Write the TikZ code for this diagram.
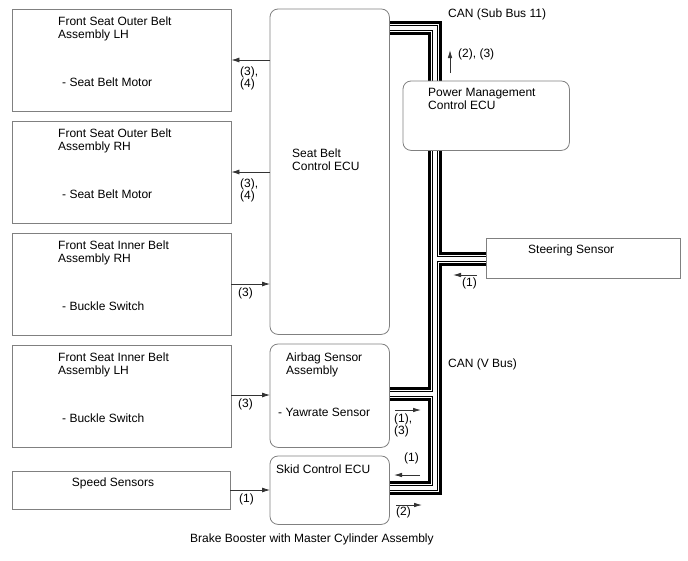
\documentclass[tikz,border=0pt]{standalone}
\usepackage{fontspec}
\setmainfont{Liberation Sans}
\usetikzlibrary{arrows.meta}
\tikzset{
  box/.style={draw=none, fill=none, inner sep=0pt, anchor=north west},
  frame/.style={draw=black!50, line width=0.8pt, fill=white},
  rframe/.style={frame, rounded corners=8pt},
  txt/.style={anchor=base west, inner sep=0pt, font=\fontsize{12}{14}\selectfont},
  ctxt/.style={txt, anchor=base},
  arr/.style={draw=black!80, line width=0.8pt, -{Latex[length=8pt,width=5pt]}},
  sarr/.style={draw=black!80, line width=0.8pt, -{Latex[length=8pt,width=4.5pt]}},
}
\newcommand\busnet[1]{%
  \draw[#1] (sbecu.east |- b1) -- (b1) -- (b1 |- pm.north);
  \draw[#1] (b1 |- pm.south) -- (b2) -- (b2 -| skid.east);
  \draw[#1] (b3) -- (b3 -| steer.west);
  \draw[#1] (b4) -- (b4 -| airbag.east);
}
\begin{document}
\begin{tikzpicture}[x=1pt,y=-1pt]
\useasboundingbox (0,0) rectangle (688,560);
% box outlines (named placeholders; frames drawn after the bus)
\node[box, minimum width=219pt, minimum height=102pt] (box1) at (12,9) {};
\node[box, minimum width=219pt, minimum height=102pt] (box2) at (12,121) {};
\node[box, minimum width=219pt, minimum height=102pt] (box3) at (12,233) {};
\node[box, minimum width=219pt, minimum height=102pt] (box4) at (12,345) {};
\node[box, minimum width=218pt, minimum height=38pt] (speed) at (12,471) {};
\node[box, minimum width=119pt, minimum height=325pt] (sbecu) at (270,9) {};
\node[box, minimum width=119pt, minimum height=103pt] (airbag) at (270,344) {};
\node[box, minimum width=119pt, minimum height=68pt] (skid) at (270,456) {};
\node[box, minimum width=166pt, minimum height=69pt] (pm) at (403,81) {};
\node[box, minimum width=194pt, minimum height=40pt] (steer) at (486,238) {};
% bus coordinates
\coordinate (b1) at (435,28);
\coordinate (b2) at (435,488);
\coordinate (b3) at (435,259);
\coordinate (b4) at (435,394);
% bus layers
\busnet{line width=14pt, black, miter limit=10}
\busnet{line width=8pt, white, miter limit=10}
\busnet{line width=5.4pt, black, miter limit=10}
\busnet{line width=3.4pt, white, miter limit=10}
% visible boxes
\draw[frame] (box1.north west) rectangle (box1.south east);
\draw[frame] (box2.north west) rectangle (box2.south east);
\draw[frame] (box3.north west) rectangle (box3.south east);
\draw[frame] (box4.north west) rectangle (box4.south east);
\draw[frame] (speed.north west) rectangle (speed.south east);
\draw[rframe] (sbecu.north west) rectangle (sbecu.south east);
\draw[rframe] (airbag.north west) rectangle (airbag.south east);
\draw[rframe] (skid.north west) rectangle (skid.south east);
\draw[rframe] (pm.north west) rectangle (pm.south east);
\draw[frame] (steer.north west) rectangle (steer.south east);
% texts
\node[txt] (t1a) at (58,25) {Front Seat Outer Belt};
\node[txt] (t1b) at (58,38.5) {Assembly LH};
\node[txt] (t1c) at (62,86) {- Seat Belt Motor};
\node[txt] (t2a) at (58,137) {Front Seat Outer Belt};
\node[txt] (t2b) at (58,150.5) {Assembly RH};
\node[txt] (t2c) at (62,198) {- Seat Belt Motor};
\node[txt] (t3a) at (58,249) {Front Seat Inner Belt};
\node[txt] (t3b) at (58,262.5) {Assembly RH};
\node[txt] (t3c) at (62,310) {- Buckle Switch};
\node[txt] (t4a) at (58,361) {Front Seat Inner Belt};
\node[txt] (t4b) at (58,374.5) {Assembly LH};
\node[txt] (t4c) at (62,422) {- Buckle Switch};
\node[ctxt] (t5) at (113,486) {Speed Sensors};
\node[txt] (t6a) at (292,157) {Seat Belt};
\node[txt] (t6b) at (292,170.5) {Control ECU};
\node[txt] (t7a) at (286,361) {Airbag Sensor};
\node[txt] (t7b) at (286,374) {Assembly};
\node[txt] (t7c) at (278,416) {- Yawrate Sensor};
\node[txt] (t8) at (276,473) {Skid Control ECU};
\node[txt] (t9a) at (428,96) {Power Management};
\node[txt] (t9b) at (428,109) {Control ECU};
\node[txt] (t10) at (528,253) {Steering Sensor};
\node[txt] (t11) at (448,17) {CAN (Sub Bus 11)};
\node[txt] (t12) at (448,367) {CAN (V Bus)};
\node[txt] (t13) at (190,542) {Brake Booster with Master Cylinder Assembly};
% arrows between boxes
\draw[arr] (sbecu.west |- 0,60) -- (box1.east |- 0,60);
\draw[arr] (sbecu.west |- 0,172) -- (box2.east |- 0,172);
\draw[arr] (box3.east |- 0,284) -- (sbecu.west |- 0,284);
\draw[arr] (box4.east |- 0,395) -- (airbag.west |- 0,395);
\draw[arr] (speed.east |- 0,490) -- (skid.west |- 0,490);
\node[txt] (l1a) at (240,75) {(3),};
\node[txt] (l1b) at (240,87) {(4)};
\node[txt] (l2a) at (240,187) {(3),};
\node[txt] (l2b) at (240,199) {(4)};
\node[txt] (l3) at (238,296) {(3)};
\node[txt] (l4) at (238,407) {(3)};
\node[txt] (l5) at (239,502) {(1)};
% bus direction arrows
\coordinate (ua) at (450,73); \coordinate (ub) at (450,50);
\draw[sarr] (ua) -- (ub);
\node[txt] (lu) at (458,57) {(2), (3)};
\coordinate (sa) at (477,275); \coordinate (sb) at (453,275);
\draw[sarr] (sa) -- (sb);
\node[txt] (ls) at (462,286) {(1)};
\coordinate (aa) at (395,410); \coordinate (ab) at (421,410);
\draw[sarr] (aa) -- (ab);
\node[txt] (la1) at (394,422) {(1),};
\node[txt] (la2) at (394,434) {(3)};
\coordinate (ka) at (420,475); \coordinate (kb) at (394,475);
\draw[sarr] (ka) -- (kb);
\node[txt] (lk) at (404,461) {(1)};
\coordinate (ca) at (396,505); \coordinate (cb) at (422,505);
\draw[sarr] (ca) -- (cb);
\node[txt] (lc) at (396,515) {(2)};
\end{tikzpicture}
\end{document}
